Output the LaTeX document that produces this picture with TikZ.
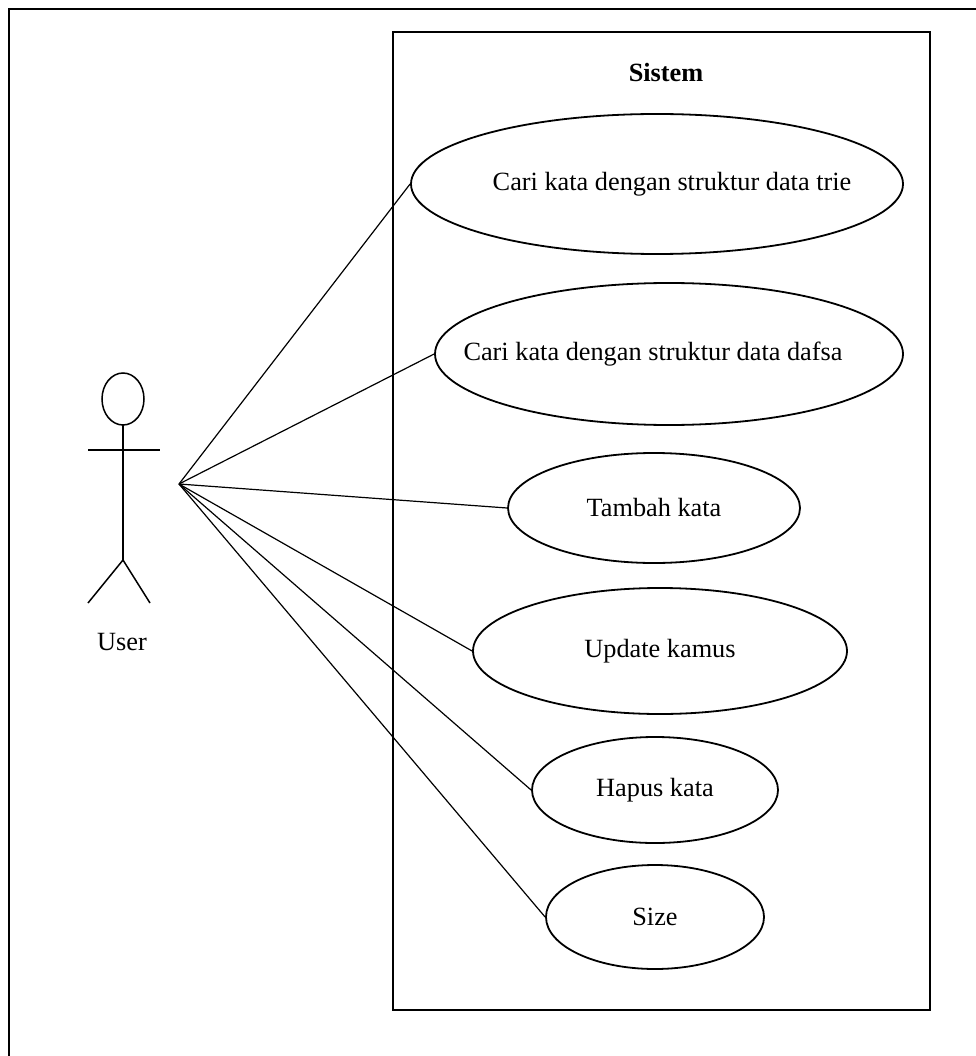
\documentclass[tikz,border=0pt]{standalone}
\usepackage{fontspec}
\setmainfont{Liberation Serif}
\usepackage{tikz}
\usetikzlibrary{shapes.geometric}
\definecolor{umlblack}{RGB}{0,0,0}
\tikzset{
  usecase/.style={ellipse, draw=umlblack, line width=1.8pt, inner sep=0pt,
    font=\fontsize{26.3}{30}\selectfont},
  assoc/.style={draw=umlblack, line width=1.2pt},
  actorline/.style={draw=umlblack, line width=1.5pt},
}
\newcommand{\uclabel}[1]{\makebox[0pt]{#1}}

\begin{document}
\begin{tikzpicture}[x=1pt,y=-1pt]
\useasboundingbox (0,0) rectangle (975,1056);
\fill[white] (0,0) rectangle (975,1056);
\draw[umlblack, line width=2pt] (9,1070)--(9,9)--(990,9);

% system boundary
\draw[umlblack, line width=2.4pt] (393,32) rectangle (930,1010);
\node[anchor=base, font=\fontsize{26.3}{30}\selectfont\bfseries] (sistem) at (666,82) {Sistem};

% use cases
\node[usecase, minimum width=492pt, minimum height=140pt] (trie) at (657,184)
  {\uclabel{\hspace*{30pt}Cari kata dengan struktur data trie}};
\node[usecase, minimum width=468pt, minimum height=142pt] (dafsa) at (669,354)
  {\uclabel{Cari kata dengan struktur data dafsa\hspace*{32pt}}};
\node[usecase, minimum width=292pt, minimum height=110pt] (tambah) at (654,508)
  {\uclabel{Tambah kata}};
\node[usecase, minimum width=374pt, minimum height=126pt] (update) at (660,651)
  {\uclabel{Update kamus}};
\node[usecase, minimum width=246pt, minimum height=106pt] (hapus) at (655,790)
  {\uclabel{Hapus kata}};
\node[usecase, minimum width=218pt, minimum height=104pt] (size) at (655,917)
  {\uclabel{Size}};

% actor
\begin{scope}
\draw[actorline] (123,399) ellipse (21 and 26);
\draw[actorline] (88,450)--(160,450);
\draw[actorline] (123,425)--(123,560);
\draw[actorline] (88,603)--(123,560)--(150,603);
\node[anchor=base, font=\fontsize{26.3}{30}\selectfont] (user) at (122,650) {User};
\end{scope}

% associations
\coordinate (hub) at (179,484);
\foreach \uc in {trie,dafsa,tambah,update,hapus,size}{
  \draw[assoc] (hub)--(\uc.west);
}
\end{tikzpicture}
\end{document}
